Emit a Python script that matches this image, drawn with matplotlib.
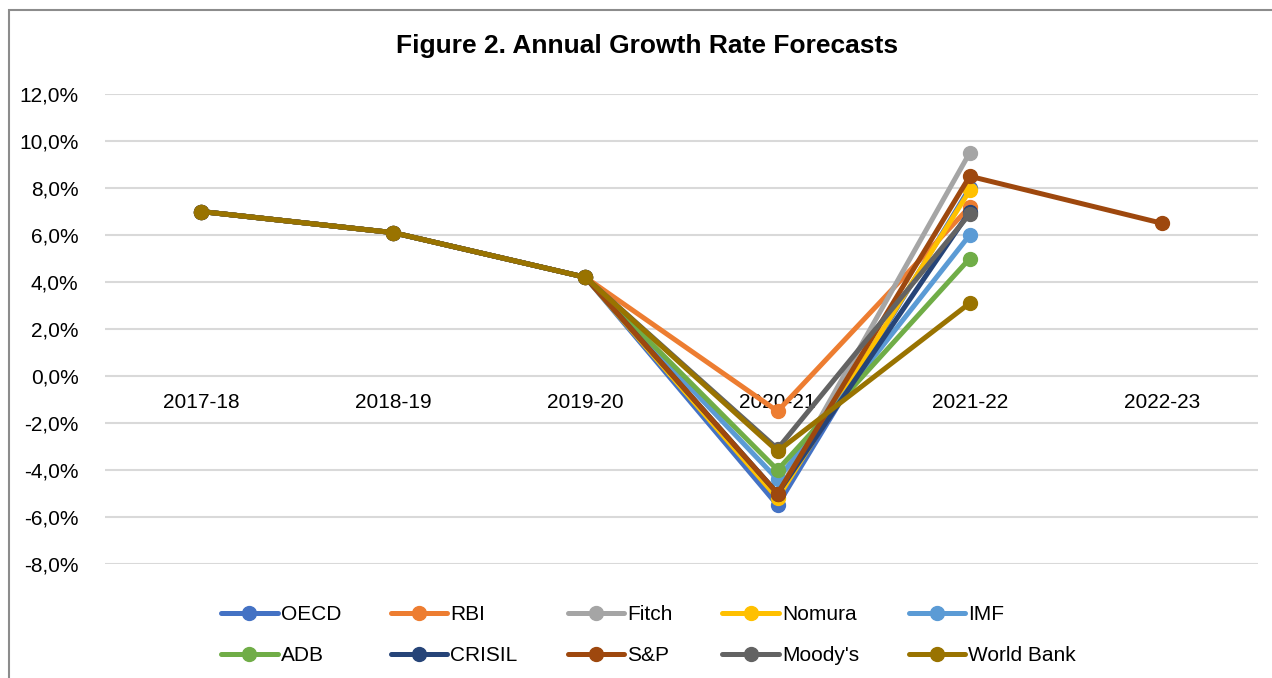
import matplotlib.pyplot as plt
import numpy as np
from matplotlib.patches import Rectangle
from matplotlib.ticker import FuncFormatter

plt.rcParams['font.family'] = ['Liberation Sans', 'DejaVu Sans']

# data (growth rate, %)
years = ["2017-18", "2018-19", "2019-20", "2020-21", "2021-22", "2022-23"]
nan = np.nan
oecd = [7.0, 6.1, 4.2, -5.5, 8.0, nan]
rbi = [7.0, 6.1, 4.2, -1.5, 7.2, nan]
fitch = [7.0, 6.1, 4.2, -5.0, 9.5, nan]
nomura = [7.0, 6.1, 4.2, -5.2, 7.9, nan]
imf = [7.0, 6.1, 4.2, -4.4, 6.0, nan]
adb = [7.0, 6.1, 4.2, -4.0, 5.0, nan]
crisil = [7.0, 6.1, 4.2, -5.0, 7.0, nan]
sandp = [7.0, 6.1, 4.2, -5.0, 8.5, 6.5]
moodys = [7.0, 6.1, 4.2, -3.1, 6.9, nan]
worldbank = [7.0, 6.1, 4.2, -3.2, 3.1, nan]

names = ["OECD", "RBI", "Fitch", "Nomura", "IMF", "ADB", "CRISIL", "S&P", "Moody's", "World Bank"]
series = [oecd, rbi, fitch, nomura, imf, adb, crisil, sandp, moodys, worldbank]
colors = ["#4472C4", "#ED7D31", "#A5A5A5", "#FFC000", "#5B9BD5",
          "#70AD47", "#264478", "#9E480E", "#636363", "#997300"]

fig = plt.figure(figsize=(12.72, 6.78), dpi=100)
ax = fig.add_axes([105 / 1272, 1 - 564 / 678, 1153 / 1272, 470 / 678])

x = np.arange(len(years))
lines = []
for name, vals, c in zip(names, series, colors):
    ln, = ax.plot(x, vals, color=c, lw=3.6, marker='o', markersize=10,
                  solid_capstyle='round', label=name, zorder=3)
    lines.append(ln)

ax.set_xlim(-0.5, len(years) - 0.5)
ax.set_ylim(-8, 12)
ax.set_yticks(np.arange(-8, 13, 2))
ax.yaxis.set_major_formatter(FuncFormatter(lambda v, p: ("%.1f%%" % v).replace(".", ",")))
ax.tick_params(axis='y', length=0, pad=19, labelsize=15)
ax.set_xticks([])
ax.grid(axis='y', color='#D9D9D9', lw=1.5, zorder=0)
for s in ax.spines.values():
    s.set_visible(False)

# category labels sit under the zero line, like excel does
for i, yr in enumerate(years):
    ax.annotate(yr, (i, 0), xytext=(0, -19), textcoords='offset points',
                ha='center', va='center', fontsize=15, zorder=2)

fig.text(0.509, 1 - 46 / 678, "Figure 2. Annual Growth Rate Forecasts",
         ha='center', va='center', fontsize=19, fontweight='bold')

# legend filled row by row (matplotlib fills by column)
order = [0, 5, 1, 6, 2, 7, 3, 8, 4, 9]
fig.legend([lines[i] for i in order], [names[i] for i in order],
           loc='center', bbox_to_anchor=(0.51, 1 - 635 / 678), ncol=5,
           frameon=False, fontsize=15, handlelength=2.7, handletextpad=0.15,
           columnspacing=2.4, labelspacing=1.05)

# chart area border
fig.patches.append(Rectangle((9 / 1272, -0.1), 1.2, 1.1 - 10 / 678, transform=fig.transFigure,
                             fill=False, edgecolor='#8C8C8C', lw=1.5))

plt.savefig("out.png", dpi=100)
